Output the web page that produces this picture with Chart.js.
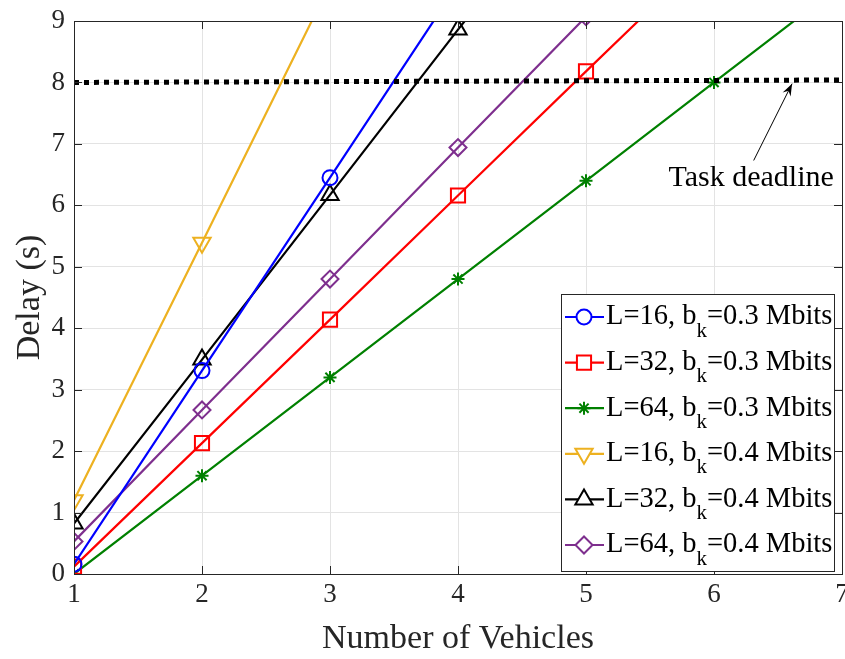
<!DOCTYPE html>
<html>
<head>
<meta charset="utf-8">
<script src="https://cdn.jsdelivr.net/npm/chart.js@4.4.1/dist/chart.umd.min.js"></script>
<style>
  html, body { margin: 0; padding: 0; background: #fff; overflow: hidden; }
  #wrap { width: 845px; height: 659px; position: relative; }
  canvas { display: block; }
</style>
</head>
<body>
<div id="wrap"><canvas id="myChart"></canvas></div>
<script>
// data
const vehicles = [1, 2, 3, 4, 5, 6, 7]
const xTicks = [1, 2, 3, 4, 5, 6, 7]
const yTicks = [0, 1, 2, 3, 4, 5, 6, 7, 8, 9]

const delayL16b03 = [0.16, 3.31, 6.45, 9.6]
const delayL32b03 = [0.12, 2.13, 4.14, 6.16, 8.18, 10.19]
const delayL64b03 = [0.0, 1.6, 3.2, 4.8, 6.4, 8.0, 9.6]
const delayL16b04 = [1.2, 5.39, 9.6]
const delayL32b04 = [0.82, 3.49, 6.17, 8.86, 11.5]
const delayL64b04 = [0.53, 2.67, 4.8, 6.94, 9.07]

const deadlineX = [1, 7]
const deadlineY = [8.0, 8.04]

const labelNames = ['L=16, b', 'L=32, b', 'L=64, b', 'L=16, b', 'L=32, b', 'L=64, b']
const labelRest = ['=0.3 Mbits', '=0.3 Mbits', '=0.3 Mbits', '=0.4 Mbits', '=0.4 Mbits', '=0.4 Mbits']

const noteText = 'Task deadline'
const notePos = { x: 6.29, y: 6.45 }
const arrowFrom = { x: 6.31, y: 6.73 }
const arrowTo = { x: 6.61, y: 7.98 }

const FONT = "'Liberation Serif', 'Times New Roman', serif"

function pts(vals){
    return vals.map(function(v, i){
        return { x: vehicles[i], y: v }
    })
}

const seriesStyle = [
    { color: '#0000ff', point: 'circle', rot: 0, r: 7.5 },
    { color: '#ff0000', point: 'rect', rot: 0, r: 10 },
    { color: '#008000', point: 'star', rot: 0, r: 6.5 },
    { color: '#EDB120', point: 'triangle', rot: 180, r: 10 },
    { color: '#000000', point: 'triangle', rot: 0, r: 10 },
    { color: '#7E2F8E', point: 'rectRot', rot: 0, r: 8.5 }
]
const seriesVals = [delayL16b03, delayL32b03, delayL64b03, delayL16b04, delayL32b04, delayL64b04]

const datasets = seriesVals.map(function(vals, i){
    const s = seriesStyle[i]
    return {
        label: labelNames[i] + 'k' + labelRest[i],
        data: pts(vals),
        borderColor: s.color,
        backgroundColor: 'rgba(0,0,0,0)',
        borderWidth: 2.2,
        pointStyle: s.point,
        pointRotation: s.rot,
        pointRadius: s.r,
        pointBorderWidth: 2,
        pointBackgroundColor: 'rgba(0,0,0,0)',
        pointBorderColor: s.color,
        tension: 0
    }
})

datasets.unshift({
    label: 'deadline',
    data: deadlineX.map(function(x, i){ return { x: x, y: deadlineY[i] } }),
    borderColor: '#000000',
    borderWidth: 5,
    borderDash: [5, 5],
    borderCapStyle: 'butt',
    pointRadius: 0,
    tension: 0
})

// legend, box and annotation drawn by hand (needs subscripts)
const extras = {
    id: 'extras',
    afterDatasetsDraw(chart){
        const ctx = chart.ctx
        const a = chart.chartArea
        const xs = chart.scales.x
        const ys = chart.scales.y
        ctx.save()

        // inward tick marks
        ctx.strokeStyle = '#262626'
        ctx.lineWidth = 1
        xTicks.forEach(function(t){
            const px = Math.round(xs.getPixelForValue(t)) + 0.5
            ctx.beginPath()
            ctx.moveTo(px, a.bottom); ctx.lineTo(px, a.bottom - 8)
            ctx.moveTo(px, a.top); ctx.lineTo(px, a.top + 8)
            ctx.stroke()
        })
        yTicks.forEach(function(t){
            const py = Math.round(ys.getPixelForValue(t)) + 0.5
            ctx.beginPath()
            ctx.moveTo(a.left, py); ctx.lineTo(a.left + 8, py)
            ctx.moveTo(a.right, py); ctx.lineTo(a.right - 8, py)
            ctx.stroke()
        })
        ctx.strokeRect(Math.round(a.left) + 0.5, Math.round(a.top) + 0.5, Math.round(a.right - a.left), Math.round(a.bottom - a.top))

        // annotation
        const tx = xs.getPixelForValue(notePos.x)
        const ty = ys.getPixelForValue(notePos.y)
        ctx.fillStyle = '#000'
        ctx.font = '30px ' + FONT
        ctx.textAlign = 'center'
        ctx.textBaseline = 'middle'
        ctx.fillText(noteText, tx, ty)

        const x0 = xs.getPixelForValue(arrowFrom.x), y0 = ys.getPixelForValue(arrowFrom.y)
        const x1 = xs.getPixelForValue(arrowTo.x), y1 = ys.getPixelForValue(arrowTo.y)
        ctx.strokeStyle = '#000'
        ctx.lineWidth = 1
        ctx.beginPath()
        ctx.moveTo(x0, y0); ctx.lineTo(x1, y1)
        ctx.stroke()
        const ang = Math.atan2(y1 - y0, x1 - x0)
        ctx.beginPath()
        ctx.moveTo(x1, y1)
        ctx.lineTo(x1 - 13 * Math.cos(ang - 0.35), y1 - 13 * Math.sin(ang - 0.35))
        ctx.lineTo(x1 - 8 * Math.cos(ang), y1 - 8 * Math.sin(ang))
        ctx.lineTo(x1 - 13 * Math.cos(ang + 0.35), y1 - 13 * Math.sin(ang + 0.35))
        ctx.closePath()
        ctx.fill()

        // legend
        const bx = 561, by = 294, bw = 273, bh = 277
        ctx.fillStyle = '#fff'
        ctx.fillRect(bx, by, bw, bh)
        ctx.strokeStyle = '#262626'
        ctx.lineWidth = 1
        ctx.strokeRect(bx + 0.5, by + 0.5, bw, bh)
        ctx.textAlign = 'left'
        ctx.textBaseline = 'middle'
        seriesStyle.forEach(function(s, i){
            const ry = 317 + i * 45.6
            ctx.strokeStyle = s.color
            ctx.lineWidth = 2.2
            ctx.beginPath()
            ctx.moveTo(565, ry); ctx.lineTo(604, ry)
            ctx.stroke()
            ctx.fillStyle = '#fff'
            ctx.lineWidth = 2
            Chart.helpers.drawPoint(ctx, { pointStyle: s.point, rotation: s.rot, radius: s.r, borderWidth: 2 }, 584, ry)
            ctx.fillStyle = '#000'
            ctx.font = '28.5px ' + FONT
            let px = 606
            ctx.fillText(labelNames[i], px, ry)
            px += ctx.measureText(labelNames[i]).width
            ctx.font = '21px ' + FONT
            ctx.fillText('k', px, ry + 14)
            px += ctx.measureText('k').width
            ctx.font = '28.5px ' + FONT
            ctx.fillText(labelRest[i], px, ry)
        })
        ctx.restore()
    }
}

const config = {
    type: 'line',
    data: { datasets },
    options: {
        responsive: true,
        maintainAspectRatio: false,
        animation: false,
        layout: { autoPadding: false, padding: { top: 21, right: 3, left: 0, bottom: 0 } },
        plugins: {
            legend: { display: false },
            tooltip: { enabled: false }
        },
        scales: {
            x: {
                type: 'linear',
                min: 1,
                max: 7,
                afterFit: function(scale){
                    scale.height = 85
                    scale.paddingLeft = 0
                    scale.paddingRight = 0
                },
                afterBuildTicks: function(scale){ scale.ticks = xTicks.map(function(v){ return { value: v } }) },
                ticks: { color: '#262626', padding: 5, font: { family: FONT, size: 27 } },
                grid: { color: '#e3e3e3', drawTicks: false },
                border: { display: false },
                title: { display: true, text: 'Number of Vehicles', color: '#262626', padding: 0, font: { family: FONT, size: 34 } }
            },
            y: {
                min: 0,
                max: 9,
                afterFit: function(scale){
                    scale.width = 74
                    scale.paddingTop = 0
                    scale.paddingBottom = 0
                },
                afterBuildTicks: function(scale){ scale.ticks = yTicks.map(function(v){ return { value: v } }) },
                ticks: { color: '#262626', padding: 9, font: { family: FONT, size: 27 } },
                grid: { color: '#e3e3e3', drawTicks: false },
                border: { display: false },
                title: { display: true, text: 'Delay (s)', color: '#262626', padding: 10, font: { family: FONT, size: 34 } }
            }
        }
    },
    plugins: [extras]
}

let myChart = new Chart(document.getElementById('myChart'), config)
</script>
</body>
</html>
